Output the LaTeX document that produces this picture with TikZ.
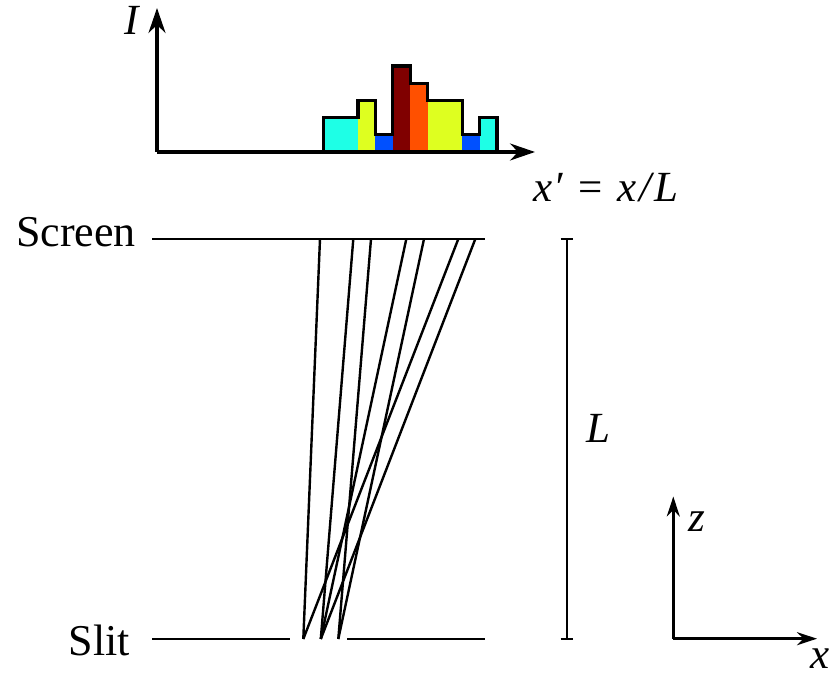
\documentclass[tikz,border=0pt]{standalone}
\usepackage{fontspec}
\setmainfont{Liberation Serif}
\usetikzlibrary{arrows.meta}
\definecolor{hcyan}{RGB}{30,255,230}
\definecolor{hyellow}{RGB}{222,255,32}
\definecolor{hblue}{RGB}{0,80,255}
\definecolor{horange}{RGB}{255,80,0}
\definecolor{hdred}{RGB}{128,0,0}
\begin{document}
\begin{tikzpicture}[x=1pt,y=-1pt,
  lbl/.style={inner sep=0pt,font=\fontsize{44}{48}\selectfont},
  mlbl/.style={inner sep=0pt,font=\fontsize{43}{48}\selectfont\itshape},
  axis/.style={line width=3.2pt,-{Stealth[length=25pt,width=17pt]}},
  smallaxis/.style={line width=2.5pt,-{Stealth[length=20pt,width=13pt]}},
  plate/.style={line width=2.5pt},
  ray/.style={line width=2.4pt},
  bin/.style={draw=none},
  envelope/.style={line width=3.2pt,line join=miter}]
\useasboundingbox (0,0) rectangle (831,676);

% histogram bins
\def\bw{17.37}
\def\bz{323.3}
\foreach \i/\h/\c in {0/2/hcyan,1/2/hcyan,2/3/hyellow,3/1/hblue,4/5/hdred,5/4/horange,6/3/hyellow,7/3/hyellow,8/1/hblue,9/2/hcyan}{
  \fill[bin,fill=\c] ({\bz+\i*\bw},152) rectangle ({\bz+(\i+1)*\bw},{152-\h*17.2});
}
\draw[envelope] (323.3,152) -- (323.3,117.6) -- (358.0,117.6) -- (358.0,100.4) -- (375.4,100.4) -- (375.4,134.8) -- (392.8,134.8) -- (392.8,66) -- (410.2,66) -- (410.2,83.2) -- (427.5,83.2) -- (427.5,100.4) -- (462.3,100.4) -- (462.3,134.8) -- (479.7,134.8) -- (479.7,117.6) -- (497,117.6) -- (497,152);

% histogram axes
\coordinate (O) at (157,152);
\coordinate (Itip) at (157,8);
\coordinate (Xtip) at (535,152);
\draw[axis] (O) -- (Itip);
\draw[axis] (O) -- (Xtip);
\node[mlbl,anchor=base] (Ilab) at (132,35) {I};
\node[mlbl,anchor=base] (xplab) at (606,202) {x\kern1pt′\hspace{15pt}{\upshape=}\hspace{15pt}x\kern3pt/\kern3pt L};

% screen and slit
\node[lbl,anchor=base east] (screen) at (136,247) {Screen};
\node[lbl,anchor=base east] (slit) at (130,655) {Slit};
\coordinate (scL) at (152,239);
\coordinate (scR) at (485,239);
\draw[plate] (scL) -- (scR);
\coordinate (slL1) at (152,639);
\coordinate (slL2) at (290,639);
\coordinate (slR1) at (347,639);
\coordinate (slR2) at (485,639);
\draw[plate] (slL1) -- (slL2);
\draw[plate] (slR1) -- (slR2);

% slit points and screen hits
\coordinate (s1) at (303.3,639);
\coordinate (s2) at (320.8,639);
\coordinate (s3) at (338.3,639);
\coordinate (t1) at (320,239);
\coordinate (t2) at (353.3,239);
\coordinate (t3) at (371,239);
\coordinate (t4) at (406.3,239);
\coordinate (t5) at (424,239);
\coordinate (t6) at (458.3,239);
\coordinate (t7) at (475.3,239);
\draw[ray] (s1) -- (t1);
\draw[ray] (s2) -- (t2);
\draw[ray] (s3) -- (t3);
\draw[ray] (s2) -- (t4);
\draw[ray] (s3) -- (t5);
\draw[ray] (s1) -- (t6);
\draw[ray] (s2) -- (t7);

% L bar
\coordinate (Ltop) at (566.7,239);
\coordinate (Lbot) at (566.7,638.7);
\draw[line width=1.8pt] (Ltop) -- (Lbot);
\draw[line width=1.8pt] (560.5,239) -- (573,239);
\draw[line width=1.8pt] (560.5,638.7) -- (573,638.7);
\node[mlbl,anchor=base] (Llab) at (598,443) {L};

% z-x frame
\coordinate (F) at (673.3,638.7);
\coordinate (Ztip) at (673.3,496.5);
\coordinate (Fx) at (817,638.7);
\draw[smallaxis] (F) -- (Ztip);
\draw[smallaxis] (F) -- (Fx);
\node[mlbl,anchor=base] (zlab) at (697,532) {z};
\node[mlbl,anchor=base west] (xlab) at (810,668) {x};
\end{tikzpicture}
\end{document}
